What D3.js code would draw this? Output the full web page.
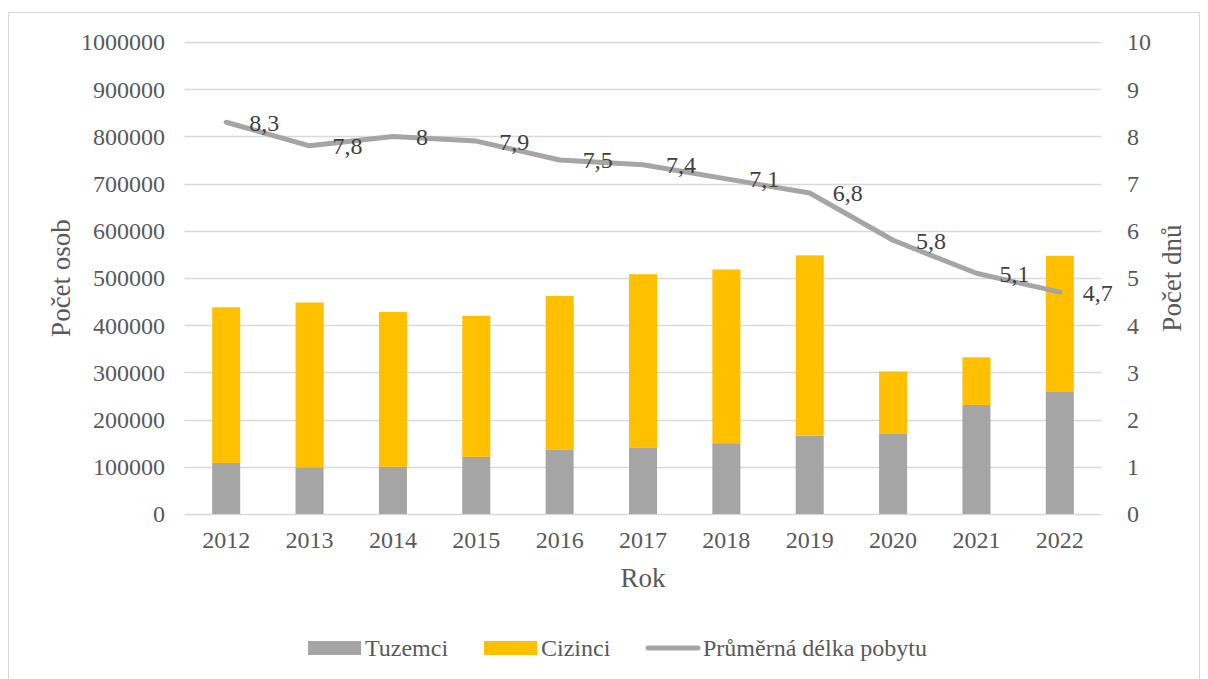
<!DOCTYPE html>
<html>
<head>
<meta charset="utf-8">
<script src="https://cdn.jsdelivr.net/npm/d3@7"></script>
<style>
  body { margin: 0; background: #fff; }
  svg text { font-family: 'Liberation Serif', 'Times New Roman', serif; }
</style>
</head>
<body>
<svg id="chart" width="1208" height="679"></svg>
<script>
// data
const years = ['2012', '2013', '2014', '2015', '2016', '2017', '2018', '2019', '2020', '2021', '2022'];
const tuzemci = [108000, 99000, 100000, 121000, 137000, 140000, 150000, 166000, 171000, 231000, 260000];
const cizinci = [330000, 349000, 328000, 299000, 325000, 368000, 368000, 382000, 131000, 101000, 287000];
const delka = [8.3, 7.8, 8, 7.9, 7.5, 7.4, 7.1, 6.8, 5.8, 5.1, 4.7];
const leftTicks = [0, 100000, 200000, 300000, 400000, 500000, 600000, 700000, 800000, 900000, 1000000];
const rightTicks = [0, 1, 2, 3, 4, 5, 6, 7, 8, 9, 10];

const colGray = '#a5a5a5';
const colGold = '#ffc000';
const textCol = '#595959';

const svg = d3.select('#chart');
const m = { left: 184.5, right: 1101.5, top: 42, bottom: 514 };

// chart frame
svg.append('rect')
    .attr('x', 8.5).attr('y', 12.5)
    .attr('width', 1191).attr('height', 700)
    .attr('fill', 'none')
    .attr('stroke', '#d9d9d9');

const x = d3.scaleBand().domain(years).range([m.left, m.right]).paddingInner(0.664).paddingOuter(0.332);
const y = d3.scaleLinear().domain([0, 1000000]).range([m.bottom, m.top]);
const y2 = d3.scaleLinear().domain([0, 10]).range([m.bottom, m.top]);

// gridlines
svg.append('g')
    .selectAll('line')
    .data(leftTicks)
    .join('line')
    .attr('x1', m.left).attr('x2', m.right)
    .attr('y1', d => Math.round(y(d)) + 0.5)
    .attr('y2', d => Math.round(y(d)) + 0.5)
    .attr('stroke', '#d9d9d9')
    .attr('stroke-width', 1.5);

// left axis labels
svg.append('g')
    .selectAll('text')
    .data(leftTicks)
    .join('text')
    .attr('x', 165)
    .attr('y', d => y(d))
    .attr('dy', '0.35em')
    .attr('text-anchor', 'end')
    .attr('font-size', 24)
    .attr('fill', textCol)
    .text(d => d);

// right axis labels
svg.append('g')
    .selectAll('text')
    .data(rightTicks)
    .join('text')
    .attr('x', 1127)
    .attr('y', d => y2(d))
    .attr('dy', '0.35em')
    .attr('text-anchor', 'start')
    .attr('font-size', 24)
    .attr('fill', textCol)
    .text(d => d);

// stacked bars
const stackData = years.map((yr, i) => ({ year: yr, Tuzemci: tuzemci[i], Cizinci: cizinci[i] }));
const series = d3.stack().keys(['Tuzemci', 'Cizinci'])(stackData);
const colors = { Tuzemci: colGray, Cizinci: colGold };

svg.append('g')
    .selectAll('g')
    .data(series)
    .join('g')
    .attr('fill', d => colors[d.key])
    .selectAll('rect')
    .data(d => d)
    .join('rect')
    .attr('x', d => x(d.data.year))
    .attr('width', x.bandwidth())
    .attr('y', d => y(d[1]))
    .attr('height', d => y(d[0]) - y(d[1]));

// line
const cx = (d, i) => x(years[i]) + x.bandwidth() / 2;
const line = d3.line()
    .x((d, i) => cx(d, i))
    .y(d => y2(d));

svg.append('path')
    .datum(delka)
    .attr('d', line)
    .attr('fill', 'none')
    .attr('stroke', colGray)
    .attr('stroke-width', 5)
    .attr('stroke-linejoin', 'round')
    .attr('stroke-linecap', 'round');

// line labels
svg.append('g')
    .selectAll('text')
    .data(delka)
    .join('text')
    .attr('x', (d, i) => cx(d, i) + 23)
    .attr('y', d => y2(d))
    .attr('dy', '0.35em')
    .attr('font-size', 24)
    .attr('fill', '#404040')
    .text(d => String(d).replace('.', ','));

// x labels
svg.append('g')
    .selectAll('text')
    .data(years)
    .join('text')
    .attr('x', d => x(d) + x.bandwidth() / 2)
    .attr('y', 540)
    .attr('dy', '0.35em')
    .attr('text-anchor', 'middle')
    .attr('font-size', 24)
    .attr('fill', textCol)
    .text(d => d);

// axis titles
svg.append('text')
    .attr('transform', 'translate(70,278) rotate(-90)')
    .attr('text-anchor', 'middle')
    .attr('font-size', 27)
    .attr('fill', textCol)
    .text('Počet osob');

svg.append('text')
    .attr('transform', 'translate(1172,278) rotate(-90)')
    .attr('dy', '0.35em')
    .attr('text-anchor', 'middle')
    .attr('font-size', 27)
    .attr('fill', textCol)
    .text('Počet dnů');

svg.append('text')
    .attr('x', 643)
    .attr('y', 578)
    .attr('dy', '0.35em')
    .attr('text-anchor', 'middle')
    .attr('font-size', 27)
    .attr('fill', textCol)
    .text('Rok');

// legend
const legend = [
    { label: 'Tuzemci', type: 'rect', color: colGray, x: 308 },
    { label: 'Cizinci', type: 'rect', color: colGold, x: 484 },
    { label: 'Průměrná délka pobytu', type: 'line', color: colGray, x: 646 }
];
const lg = svg.append('g')
    .selectAll('g')
    .data(legend)
    .join('g')
    .attr('transform', d => `translate(${d.x},648)`);

lg.filter(d => d.type === 'rect')
    .append('rect')
    .attr('x', 0).attr('y', -7)
    .attr('width', 53).attr('height', 14)
    .attr('fill', d => d.color);

lg.filter(d => d.type === 'line')
    .append('line')
    .attr('x1', 2).attr('x2', 52)
    .attr('y1', 0).attr('y2', 0)
    .attr('stroke', d => d.color)
    .attr('stroke-width', 5)
    .attr('stroke-linecap', 'round');

lg.append('text')
    .attr('x', 57)
    .attr('y', 0)
    .attr('dy', '0.35em')
    .attr('font-size', 24)
    .attr('fill', textCol)
    .text(d => d.label);
</script>
</body>
</html>
